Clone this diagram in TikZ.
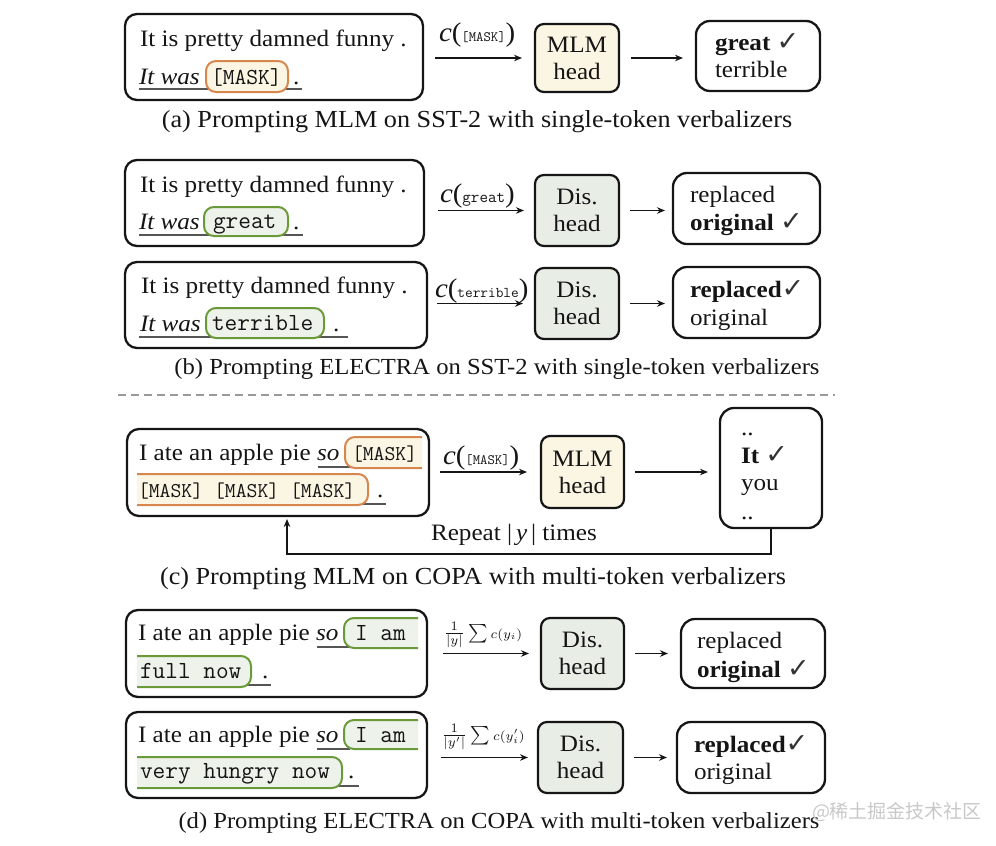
\documentclass[tikz,border=0pt]{standalone}
\usepackage{fontspec}
\usepackage{graphicx}
\setmainfont[FakeStretch=1.07]{Liberation Serif}
\newfontfamily\symfont{DejaVu Sans}
\newfontfamily\cjkfont{Noto Sans CJK SC}
\usetikzlibrary{arrows.meta}
\definecolor{ink}{HTML}{151515}
\definecolor{cream}{HTML}{FBF5E3}
\definecolor{maskorange}{HTML}{D5874F}
\definecolor{tokgreen}{HTML}{6B9A3A}
\definecolor{tokfill}{HTML}{EDF2EA}
\definecolor{disfill}{HTML}{E8EEE6}
\definecolor{ulgray}{HTML}{555555}
\definecolor{chkgray}{HTML}{333333}
\definecolor{dashgray}{HTML}{999999}
\definecolor{wmgray}{HTML}{C8C8C8}
\newcommand\fsz[2]{\fontsize{#1}{#2}\selectfont}
\newcommand\chk{{\symfont\fontsize{27}{30}\selectfont\color{chkgray}✓}}
\newcommand\lbl[2]{{\ttfamily\fontsize{#1}{#1}\selectfont #2}}
\begin{document}
\begin{tikzpicture}[x=1pt,y=-1pt,
 every node/.style={inner sep=0pt, outer sep=0pt, text=ink},
 inbox/.style={draw=ink, line width=2.3pt, rounded corners=12pt},
 headbox/.style={draw=ink, line width=2.2pt, rounded corners=9pt, align=center, font=\fsz{23.5}{27}, minimum width=84pt, minimum height=71pt},
 mlm/.style={headbox, fill=cream},
 dis/.style={headbox, fill=disfill},
 outbox/.style={draw=ink, line width=2.3pt, rounded corners=14pt},
 txt/.style={anchor=base west, font=\fsz{23.5}{28}},
 captext/.style={anchor=base, font=\fsz{24.5}{28}},
 tok/.style={anchor=base west, font=\ttfamily\fsz{24.6}{28}},
 arr/.style={draw=ink, line width=1.4pt, -{Stealth[length=8pt,width=6.5pt]}},
 uline/.style={draw=ulgray, line width=1.1pt},
 hlO/.style={draw=maskorange, fill=cream, line width=2pt, rounded corners=10pt},
 hlG/.style={draw=tokgreen, fill=tokfill, line width=2pt, rounded corners=10pt},
 mathlbl/.style={font=\fsz{10}{12}},
]
\useasboundingbox (0,0) rectangle (996,846);

% ---------------- (a)
\node[inbox, minimum width=298pt, minimum height=86pt] (inA) at (274,57) {};
\node[txt] (inA1) at (140,46) {It is pretty damned funny .};
\node[txt] (inA2) at (139,84) {\itshape It was};
\draw[uline] (139,89) -- (302,89);
\node[hlO, minimum width=82pt, minimum height=31pt] (tokA) at (247,76.5) {};
\node[tok, font=\ttfamily\fsz{22.9}{26}] (tokAt) at (211,84) {[MASK]};
\node[txt] (dotA) at (293,84) {.};
\node[mlm, minimum height=68pt] (headA) at (577,58) {MLM\\head};
\node[outbox, minimum width=124pt, minimum height=70pt] (outA) at (758,56) {};
\node[txt] (outA1) at (715,50) {\textbf{great} \chk};
\node[txt] (outA2) at (715,77) {terrible};
\draw[arr] ([xshift=12pt]headA.west -| inA.east) -- ([xshift=-13pt]headA.west);
\node[txt, font=\fsz{27}{30}] (labA) at (439,41) {\textit{c}(\lbl{14.3}{[MASK]})};
\draw[arr] ([xshift=12pt]headA.east) -- ([xshift=-13pt]headA.east -| outA.west);
\node[captext] (capA) at (477,127) {(a) Prompting MLM on SST-2 with single-token verbalizers};

% ---------------- (b) first
\node[inbox, minimum width=299pt, minimum height=86pt] (inB1) at (274.5,203) {};
\node[txt] (inB1a) at (140,192) {It is pretty damned funny .};
\node[txt] (inB1b) at (139,229) {\itshape It was};
\draw[uline] (139,235) -- (303,235);
\node[hlG, minimum width=84pt, minimum height=29pt] (tokB1) at (246,221.5) {};
\node[tok] (tokB1t) at (213,228) {great};
\node[txt] (dotB1) at (293,229) {.};
\node[dis] (headB1) at (577,210.5) {Dis.\\head};
\node[outbox, minimum width=147pt, minimum height=71pt] (outB1) at (746.5,208.5) {};
\node[txt] (outB1a) at (690,202) {replaced};
\node[txt] (outB1b) at (690,230) {\textbf{original} \chk};
\draw[arr] ([xshift=14pt]headB1.west -| inB1.east) -- ([xshift=-11pt]headB1.west);
\node[txt, font=\fsz{27}{30}] (labB1) at (440,202) {\textit{c}(\lbl{16.6}{great})};
\draw[arr] ([xshift=11pt]headB1.east) -- ([xshift=-8pt]headB1.east -| outB1.west);

% ---------------- (b) second
\node[inbox, minimum width=302pt, minimum height=86pt] (inB2) at (276,305) {};
\node[txt] (inB2a) at (141,293) {It is pretty damned funny .};
\node[txt] (inB2b) at (140,331) {\itshape It was};
\draw[uline] (139,337) -- (348,337);
\node[hlG, minimum width=118pt, minimum height=30pt] (tokB2) at (265,323) {};
\node[tok] (tokB2t) at (212,330) {terrible};
\node[txt] (dotB2) at (333,331) {.};
\node[dis] (headB2) at (577,303.5) {Dis.\\head};
\node[outbox, minimum width=147pt, minimum height=71pt] (outB2) at (746.5,302.5) {};
\node[txt] (outB2a) at (690,297) {\textbf{replaced}\chk};
\node[txt] (outB2b) at (690,325) {original};
\draw[arr] ([xshift=10pt]headB2.west -| inB2.east) -- ([xshift=-12pt]headB2.west);
\node[txt, font=\fsz{27}{30}] (labB2) at (435,297) {\textit{c}(\lbl{14.9}{terrible})};
\draw[arr] ([xshift=11pt]headB2.east) -- ([xshift=-8pt]headB2.east -| outB2.west);
\node[captext, font=\fsz{23}{28}] (capB) at (497,374) {(b) Prompting ELECTRA on SST-2 with single-token verbalizers};

% ---------------- separator
\draw[dashgray, line width=1.5pt, dash pattern=on 8pt off 5pt] (118,395) -- (835,395);

% ---------------- (c)
\node[inbox, minimum width=302pt, minimum height=87pt] (inC) at (278,472.5) {};
\node[txt] (inC1) at (139,460) {I ate an apple pie \textit{so}};
\draw[uline] (318,467) -- (352,467);
\begin{scope}
\clip (330,430) rectangle (422,476);
\node[hlO, minimum width=110pt, minimum height=31pt, anchor=north west] (mC1) at (345,437) {};
\end{scope}
\node[tok, font=\ttfamily\fsz{21.1}{24}] (mC1t) at (352,460) {[MASK]};
\draw[uline] (137,504) -- (386,504);
\begin{scope}
\clip (137,468) rectangle (380,512);
\node[hlO, minimum width=258pt, minimum height=31pt, anchor=north east] (mC2) at (368,474) {};
\end{scope}
\node[tok, font=\ttfamily\fsz{21.1}{24}] (mC2t) at (138,497) {[MASK] [MASK] [MASK]};
\node[txt] (dotC) at (377,497) {.};
\node[mlm, minimum width=83pt, minimum height=72pt] (headC) at (582.5,472) {MLM\\head};
\node[outbox, minimum width=102pt, minimum height=120pt] (outC) at (771,468) {};
\node[txt] (outC1) at (741,435) {..};
\node[txt] (outC2) at (741,463) {\textbf{It} \chk};
\node[txt] (outC3) at (741,490) {you};
\node[txt] (outC4) at (741,519) {..};
\draw[arr] ([xshift=11pt]headC.west -| inC.east) -- ([xshift=-14pt]headC.west);
\node[txt, font=\fsz{27}{30}] (labC) at (443,464) {\textit{c}(\lbl{14.3}{[MASK]})};
\draw[arr] ([xshift=11pt]headC.east) -- ([xshift=-12pt]headC.east -| outC.west);
\coordinate (fb) at (287,554);
\draw[arr] (outC.south) |- (fb) -- ([yshift=-3pt]fb |- inC.south);
\node[txt] (rep) at (431,540) {Repeat |\,\textit{y}\,| times};
\node[captext] (capC) at (473,584) {(c) Prompting MLM on COPA with multi-token verbalizers};

% ---------------- (d) first
\node[inbox, minimum width=301pt, minimum height=87pt] (inD1) at (276.5,653.5) {};
\node[txt] (inD1a) at (138,640) {I ate an apple pie \textit{so}};
\draw[uline] (317,647) -- (350,647);
\begin{scope}
\clip (330,612) rectangle (418,655);
\node[hlG, minimum width=110pt, minimum height=30pt, anchor=north west] (gD1) at (344,618) {};
\end{scope}
\node[tok] (gD1t) at (355,640) {I am};
\draw[uline] (137,685) -- (271,685);
\begin{scope}
\clip (137,650) rectangle (260,693);
\node[hlG, minimum width=141pt, minimum height=31pt, anchor=north east] (gD2) at (251,656) {};
\end{scope}
\node[tok] (gD2t) at (140,678) {full now};
\node[txt] (dotD1) at (262,678) {.};
\node[dis, minimum width=83pt] (headD1) at (582.5,653.5) {Dis.\\head};
\node[outbox, minimum width=144pt, minimum height=69pt] (outD1) at (753,653.5) {};
\node[txt] (outD1a) at (697,648) {replaced};
\node[txt] (outD1b) at (697,677) {\textbf{original} \chk};
\draw[arr] ([xshift=16pt]headD1.west -| inD1.east) -- ([xshift=-12pt]headD1.west);
\node[mathlbl] (labD1) at (483,635) {\scalebox{1.85}{$\frac{1}{|y|}\sum$\,{\scriptsize$c(y_i)$}}};
\draw[arr] ([xshift=11pt]headD1.east) -- ([xshift=-13pt]headD1.east -| outD1.west);

% ---------------- (d) second
\node[inbox, minimum width=301pt, minimum height=86pt] (inD2) at (276.5,755) {};
\node[txt] (inD2a) at (138,742) {I ate an apple pie \textit{so}};
\draw[uline] (317,749) -- (350,749);
\begin{scope}
\clip (330,714) rectangle (418,756);
\node[hlG, minimum width=110pt, minimum height=29pt, anchor=north west] (gD3) at (344,720) {};
\end{scope}
\node[tok] (gD3t) at (355,742) {I am};
\draw[uline] (137,786) -- (359,786);
\begin{scope}
\clip (137,751) rectangle (345,795);
\node[hlG, minimum width=232pt, minimum height=31pt, anchor=north east] (gD4) at (342,757) {};
\end{scope}
\node[tok] (gD4t) at (140,778) {very hungry now};
\node[txt] (dotD2) at (348,778) {.};
\node[dis, minimum width=85pt] (headD2) at (580.5,757.5) {Dis.\\head};
\node[outbox, minimum width=148pt, minimum height=71pt] (outD2) at (751,757.5) {};
\node[txt] (outD2a) at (694,752) {\textbf{replaced}\chk};
\node[txt] (outD2b) at (694,779) {original};
\draw[arr] ([xshift=14pt]headD2.west -| inD2.east) -- ([xshift=-10pt]headD2.west);
\node[mathlbl] (labD2) at (483,737) {\scalebox{1.85}{$\frac{1}{|y'|}\sum$\,{\scriptsize$c(y'_i)$}}};
\draw[arr] ([xshift=11pt]headD2.east) -- ([xshift=-10pt]headD2.east -| outD2.west);
\node[captext, font=\fsz{23}{28}] (capD) at (499,828) {(d) Prompting ELECTRA on COPA with multi-token verbalizers};

\node[anchor=base west, font=\cjkfont\fsz{19}{22}, text=wmgray] (wm) at (812,818) {@稀土掘金技术社区};
\end{tikzpicture}
\end{document}
